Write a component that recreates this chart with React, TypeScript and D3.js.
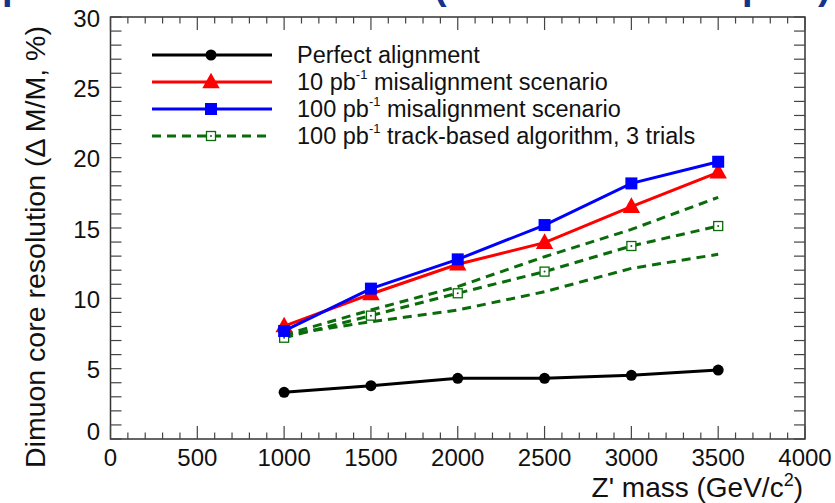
import React from "react";
import * as d3 from "d3";

const masses = [1000, 1500, 2000, 2500, 3000, 3500];
const perfect = [3.32, 3.79, 4.31, 4.31, 4.53, 4.9];
const misalign10 = [8.03, 10.31, 12.42, 13.96, 16.52, 18.96];
const misalign100 = [7.68, 10.69, 12.77, 15.21, 18.17, 19.71];
const trackMid = [7.2, 8.77, 10.36, 11.9, 13.72, 15.14];
const trackHigh = [7.4, 9.17, 10.83, 12.96, 14.9, 17.18];
const trackLow = [7.39, 8.34, 9.17, 10.47, 12.13, 13.13];

const xTicks = [0, 500, 1000, 1500, 2000, 2500, 3000, 3500, 4000];
const yTicks = [0, 5, 10, 15, 20, 25, 30];

const W = 835;
const H = 503;
const FONT = "'Liberation Sans', Arial, Helvetica, sans-serif";

export default function App() {
  const x = d3.scaleLinear().domain([0, 4000]).range([110.5, 805]);
  const y = d3.scaleLinear().domain([0, 30]).range([439, 17]);
  const line = d3
    .line<[number, number]>()
    .x((d) => x(d[0]))
    .y((d) => y(d[1]));
  const pts = (vals: number[]) => masses.map((m, i) => [m, vals[i]] as [number, number]);

  const xMinor = d3.range(0, 4001, 100);
  const yMinor = d3.range(0, 31, 1);
  const tickColor = "#444";

  const tri = (cx: number, cy: number, s: number) =>
    `M${cx},${cy - s * 0.62} L${cx + s * 0.58},${cy + s * 0.42} L${cx - s * 0.58},${cy + s * 0.42} Z`;

  const legendX1 = 152;
  const legendX2 = 272;
  const legendMid = 211;
  const legendText = 297;
  const rows = [55, 82, 109, 136];
  const green = "#0a6b0a";

  return (
    <svg width={W} height={H} style={{ position: "absolute", left: 0, top: 0, background: "#fff" }}>
      <rect x={0} y={0} width={W} height={H} fill="#fff" />
      {/* cropped title fragments */}
      <g fill="#16338c" fontFamily={FONT} fontWeight="bold" fontSize={38}>
        <text x={2} y={-1}>p</text>
        <text x={434} y={-1}>(</text>
        <text x={742} y={-1}>p</text>
        <text x={818} y={-1}>)</text>
      </g>

      {/* frame */}
      <rect x={x(0)} y={y(30)} width={x(4000) - x(0)} height={y(0) - y(30)} fill="none" stroke="#333" strokeWidth={1.5} />

      {/* x ticks */}
      {xMinor.map((v) => {
        const major = v % 500 === 0;
        const len = major ? 13 : 6.5;
        return (
          <g key={"xt" + v} stroke={tickColor} strokeWidth={1.2}>
            <line x1={x(v)} x2={x(v)} y1={y(0)} y2={y(0) - len} />
            <line x1={x(v)} x2={x(v)} y1={y(30)} y2={y(30) + len} />
          </g>
        );
      })}
      {/* y ticks */}
      {yMinor.map((v) => (
        <g key={"yt" + v} stroke={tickColor} strokeWidth={1.2}>
          <line x1={x(0)} x2={x(0) + 11} y1={y(v)} y2={y(v)} />
          <line x1={x(4000)} x2={x(4000) - 11} y1={y(v)} y2={y(v)} />
        </g>
      ))}

      {/* tick labels */}
      <g fontFamily={FONT} fontSize={24} fill="#111">
        {xTicks.map((v) => (
          <text key={"xl" + v} x={x(v)} y={466} textAnchor="middle">
            {v}
          </text>
        ))}
        {yTicks.map((v) => (
          <text key={"yl" + v} x={100} y={y(v) + (v === 0 ? -8 : 1)} textAnchor="end" dominantBaseline="central">
            {v}
          </text>
        ))}
      </g>

      {/* axis titles */}
      <text x={803} y={497} textAnchor="end" fontFamily={FONT} fontSize={28} fill="#111">
        Z' mass (GeV/c<tspan dy={-11} fontSize={18}>2</tspan>
        <tspan dy={11}>)</tspan>
      </text>
      <text
        transform="translate(45,468) rotate(-90)"
        x={0}
        y={0}
        textAnchor="start"
        fontFamily={FONT}
        fontSize={28.5}
        fill="#111"
      >
        Dimuon core resolution (Δ M/M, %)
      </text>

      {/* data lines */}
      <path d={line(pts(trackLow)) || ""} fill="none" stroke={green} strokeWidth={3} strokeDasharray="9,6" />
      <path d={line(pts(trackHigh)) || ""} fill="none" stroke={green} strokeWidth={3} strokeDasharray="9,6" />
      <path d={line(pts(trackMid)) || ""} fill="none" stroke={green} strokeWidth={3} strokeDasharray="9,6" />
      {masses.map((m, i) => (
        <g key={"gm" + m}>
          <rect x={x(m) - 4.5} y={y(trackMid[i]) - 4.5} width={9} height={9} fill="#fff" stroke={green} strokeWidth={1.3} />
          <circle cx={x(m)} cy={y(trackMid[i])} r={1} fill={green} />
        </g>
      ))}

      <path d={line(pts(perfect)) || ""} fill="none" stroke="#000" strokeWidth={3} />
      {masses.map((m, i) => (
        <circle key={"pm" + m} cx={x(m)} cy={y(perfect[i])} r={5.5} fill="#000" />
      ))}

      <path d={line(pts(misalign10)) || ""} fill="none" stroke="#ff0000" strokeWidth={3} />
      {masses.map((m, i) => (
        <path key={"rm" + m} d={tri(x(m), y(misalign10[i]), 15)} fill="#ff0000" />
      ))}

      <path d={line(pts(misalign100)) || ""} fill="none" stroke="#0000ff" strokeWidth={3} />
      {masses.map((m, i) => (
        <rect key={"bm" + m} x={x(m) - 6} y={y(misalign100[i]) - 6} width={12} height={12} fill="#0000ff" />
      ))}

      {/* legend */}
      <g>
        <line x1={legendX1} x2={legendX2} y1={rows[0]} y2={rows[0]} stroke="#000" strokeWidth={3} />
        <circle cx={legendMid} cy={rows[0]} r={5.5} fill="#000" />
        <line x1={legendX1} x2={legendX2} y1={rows[1]} y2={rows[1]} stroke="#ff0000" strokeWidth={3} />
        <path d={tri(legendMid, rows[1], 15)} fill="#ff0000" />
        <line x1={legendX1} x2={legendX2} y1={rows[2]} y2={rows[2]} stroke="#0000ff" strokeWidth={3} />
        <rect x={legendMid - 6} y={rows[2] - 6} width={12} height={12} fill="#0000ff" />
        <line x1={legendX1} x2={legendX2} y1={rows[3]} y2={rows[3]} stroke={green} strokeWidth={3} strokeDasharray="9,6" />
        <rect x={legendMid - 4.5} y={rows[3] - 4.5} width={9} height={9} fill="#fff" stroke={green} strokeWidth={1.3} />
        <circle cx={legendMid} cy={rows[3]} r={1} fill={green} />
      </g>
      <g fontFamily={FONT} fontSize={23.5} fill="#111">
        <text x={legendText} y={rows[0]} dominantBaseline="central">Perfect alignment</text>
        <text x={legendText} y={rows[1]} dominantBaseline="central">
          10 pb<tspan dy={-8} fontSize={13}>-1</tspan>
          <tspan dy={8}> misalignment scenario</tspan>
        </text>
        <text x={legendText} y={rows[2]} dominantBaseline="central">
          100 pb<tspan dy={-8} fontSize={13}>-1</tspan>
          <tspan dy={8}> misalignment scenario</tspan>
        </text>
        <text x={legendText} y={rows[3]} dominantBaseline="central">
          100 pb<tspan dy={-8} fontSize={13}>-1</tspan>
          <tspan dy={8}> track-based algorithm, 3 trials</tspan>
        </text>
      </g>
    </svg>
  );
}
